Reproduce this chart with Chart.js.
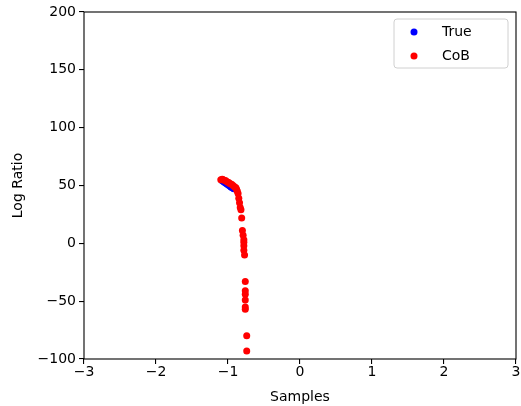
<!DOCTYPE html>
<html>
<head>
<meta charset="utf-8">
<script src="https://cdn.jsdelivr.net/npm/chart.js@4.4.1/dist/chart.umd.min.js"></script>
<style>
  body { margin: 0; background: #fff; }
  #wrap { width: 521px; height: 406px; }
</style>
</head>
<body>
<div id="wrap"><canvas id="scatterChart" width="521" height="406"></canvas></div>
<script>
// Values
const trueX = [-1.08, -1.06, -1.04, -1.02, -1.00, -0.98, -0.96, -0.94, -0.92];
const trueY = [54, 53.2, 52.4, 51.5, 50.6, 49.7, 48.8, 48, 47.2];

const cobX = [-1.10, -1.08, -1.07, -1.05, -1.03, -1.01, -0.99, -0.97, -0.95, -0.93, -0.91, -0.89, -0.88, -0.87, -0.86,
  -0.85, -0.84, -0.83, -0.82, -0.81, -0.80, -0.79, -0.78, -0.78, -0.78, -0.78, -0.77,
  -0.76, -0.76, -0.76, -0.76, -0.76, -0.76, -0.74, -0.74];
const cobY = [55, 55.5, 55, 54.5, 54, 53, 52.5, 51.5, 51, 50, 49, 48, 46.5, 45, 43,
  39, 35, 31, 29, 22, 11, 7, 3, 1, -2, -6, -10,
  -33, -41, -44, -49, -55, -57, -80, -93];

const xTicks = [-3, -2, -1, 0, 1, 2, 3];
const yTicks = [-100, -50, 0, 50, 100, 150, 200];
const seriesNames = ['True', 'CoB'];
const seriesColors = ['#0000ff', '#ff0000'];

const font = { family: 'DejaVu Sans', size: 14 };
const minus = v => (v < 0 ? '\u2212' + Math.abs(v) : String(v));

// matplotlib style box and legend
const framePlugin = {
  id: 'frame',
  afterDatasetsDraw(chart) {
    const { ctx, chartArea: a } = chart;
    ctx.save();
    ctx.strokeStyle = '#000';
    ctx.lineWidth = 1.1;
    ctx.strokeRect(a.left, a.top, a.right - a.left, a.bottom - a.top);

    // legend
    const bx = 394, by = 19, bw = 114, bh = 49, r = 3;
    ctx.beginPath();
    ctx.moveTo(bx + r, by);
    ctx.arcTo(bx + bw, by, bx + bw, by + bh, r);
    ctx.arcTo(bx + bw, by + bh, bx, by + bh, r);
    ctx.arcTo(bx, by + bh, bx, by, r);
    ctx.arcTo(bx, by, bx + bw, by, r);
    ctx.closePath();
    ctx.fillStyle = 'rgba(255,255,255,0.8)';
    ctx.fill();
    ctx.strokeStyle = '#d0d0d0';
    ctx.lineWidth = 1;
    ctx.stroke();

    ctx.font = '14px "DejaVu Sans"';
    ctx.textBaseline = 'middle';
    seriesNames.forEach((name, i) => {
      const cy = 32 + i * 24;
      ctx.beginPath();
      ctx.arc(414, cy, 3.5, 0, Math.PI * 2);
      ctx.fillStyle = seriesColors[i];
      ctx.fill();
      ctx.fillStyle = '#000';
      ctx.fillText(name, 442, cy);
    });
    ctx.restore();
  }
};

new Chart(document.getElementById('scatterChart'), {
  type: 'scatter',
  data: {
    datasets: [
      {
        label: seriesNames[0],
        data: trueX.map((x, i) => ({ x: x, y: trueY[i] })),
        backgroundColor: seriesColors[0],
        borderWidth: 0,
        pointRadius: 3.5,
        order: 2
      },
      {
        label: seriesNames[1],
        data: cobX.map((x, i) => ({ x: x, y: cobY[i] })),
        backgroundColor: seriesColors[1],
        borderWidth: 0,
        pointRadius: 3.5,
        order: 1
      }
    ]
  },
  options: {
    responsive: false,
    animation: false,
    layout: { padding: { top: 12, right: 5, left: 0, bottom: 0 } },
    plugins: { legend: { display: false }, tooltip: { enabled: false } },
    scales: {
      x: {
        type: 'linear',
        min: -3, max: 3,
        afterBuildTicks: s => { s.ticks = xTicks.map(v => ({ value: v })); },
        afterFit: s => { s.height = 47; },
        grid: { drawOnChartArea: false, drawTicks: true, tickLength: 5, color: '#000', lineWidth: 1.1 },
        border: { display: false },
        ticks: { color: '#000', font: font, padding: 0, maxRotation: 0, callback: v => minus(v) },
        title: { display: true, text: 'Samples', color: '#000', font: font, padding: { top: 0, bottom: 0 } }
      },
      y: {
        type: 'linear',
        min: -100, max: 200,
        afterBuildTicks: s => { s.ticks = yTicks.map(v => ({ value: v })); },
        afterFit: s => { s.width = 84; },
        grid: { drawOnChartArea: false, drawTicks: true, tickLength: 5, color: '#000', lineWidth: 1.1 },
        border: { display: false },
        ticks: { color: '#000', font: font, padding: 3, callback: v => minus(v) },
        title: { display: true, text: 'Log Ratio', color: '#000', font: font, padding: { top: 10, bottom: 0 } }
      }
    }
  },
  plugins: [framePlugin]
});
</script>
</body>
</html>
